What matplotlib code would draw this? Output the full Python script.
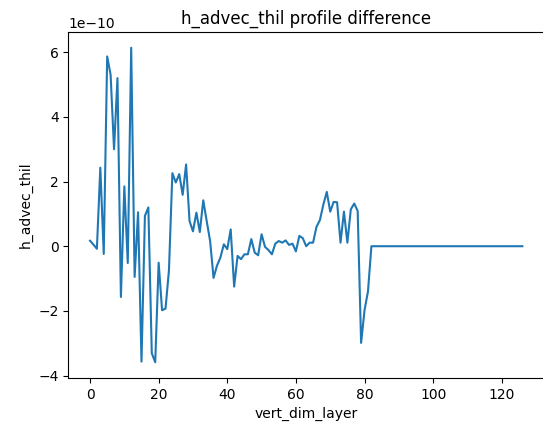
import numpy as np
import matplotlib
matplotlib.use('Agg')
import matplotlib.pyplot as plt

# profile difference values (units of 1e-10), layers 0..82, then flat zero
head_vals = [0.17, 0.05, -0.08, 2.43, -0.24, 5.87, 5.3, 3.0, 5.2, -1.57,
             1.85, -0.52, 6.14, -0.95, 1.05, -3.57, 0.94, 1.2, -3.31, -3.59,
             -0.51, -1.98, -1.93, -0.75, 2.26, 1.97, 2.23, 1.59, 2.53, 0.78,
             0.46, 1.04, 0.44, 1.42, 0.78, 0.16, -0.98, -0.6, -0.35, 0.06,
             -0.09, 0.52, -1.25, -0.3, -0.4, -0.25, -0.25, 0.22, -0.2, -0.28,
             0.37, -0.02, -0.12, -0.25, 0.08, 0.16, 0.11, 0.18, 0.04, 0.08,
             -0.16, 0.32, 0.25, 0.0, 0.11, 0.11, 0.6, 0.81, 1.29, 1.68,
             1.07, 1.37, 1.36, 0.11, 1.07, 0.11, 1.14, 1.32, 1.09, -2.99,
             -1.98, -1.4, 0.0]
n_layers = 127

diff = np.zeros(n_layers)
diff[:len(head_vals)] = np.array(head_vals) * 1e-10
layers = np.arange(n_layers)

fig = plt.figure(figsize=(5.43, 4.34), dpi=100)
ax = fig.add_axes([68.4 / 543, 56 / 434, 475.6 / 543, 346 / 434])
ax.plot(layers, diff)
ax.set_xlabel('vert_dim_layer')
ax.set_ylabel('h_advec_thil')
ax.set_title('h_advec_thil profile difference')
fig.savefig('out.png', dpi=100)
